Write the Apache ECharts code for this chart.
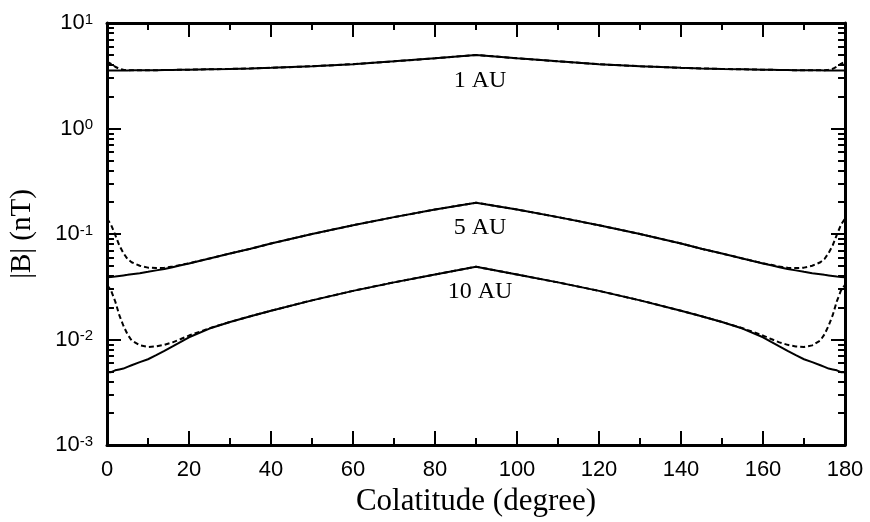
<!DOCTYPE html>
<html>
<head>
<meta charset="utf-8">
<script src="https://cdn.jsdelivr.net/npm/echarts@6/dist/echarts.min.js"></script>
<style>
  html, body { margin: 0; padding: 0; background: #fff; }
  #main { width: 870px; height: 522px; }
</style>
</head>
<body>
<div id="main"></div>
<script>
// colatitude grid (degrees)
const xs = [0, 1, 2, 3, 4, 5, 6, 8, 10, 12, 14, 16, 18, 20, 25, 30, 35, 40, 50, 60, 70, 80,
  90,
  100, 110, 120, 130, 140, 145, 150, 155, 160, 162, 164, 166, 168, 170, 172, 174, 175, 176, 177, 178, 179, 180];

// |B| in nT
const au1Solid = [3.55, 3.55, 3.55, 3.55, 3.55, 3.55, 3.56, 3.56, 3.56, 3.57, 3.58, 3.59, 3.60, 3.61, 3.64, 3.67, 3.71, 3.76, 3.89, 4.07, 4.33, 4.63,
  4.98,
  4.63, 4.33, 4.07, 3.89, 3.76, 3.71, 3.67, 3.64, 3.61, 3.60, 3.59, 3.58, 3.57, 3.56, 3.56, 3.56, 3.55, 3.55, 3.55, 3.55, 3.55, 3.55];
const au1Dash = [4.30, 4.10, 3.85, 3.68, 3.60, 3.57, 3.56, 3.56, 3.56, 3.57, 3.58, 3.59, 3.60, 3.61, 3.64, 3.67, 3.71, 3.76, 3.89, 4.07, 4.33, 4.63,
  4.98,
  4.63, 4.33, 4.07, 3.89, 3.76, 3.71, 3.67, 3.64, 3.61, 3.60, 3.59, 3.58, 3.57, 3.56, 3.56, 3.56, 3.57, 3.60, 3.68, 3.85, 4.10, 4.30];

const au5Solid = [0.039, 0.0391, 0.0395, 0.040, 0.0405, 0.041, 0.0416, 0.0425, 0.0438, 0.0452, 0.0466, 0.0485, 0.0505, 0.0525, 0.0586, 0.0653, 0.0724, 0.0813, 0.100, 0.121, 0.1445, 0.1706,
  0.198,
  0.1706, 0.1445, 0.121, 0.100, 0.0813, 0.0724, 0.0653, 0.0586, 0.0525, 0.0505, 0.0485, 0.0466, 0.0452, 0.0438, 0.0425, 0.0416, 0.041, 0.0405, 0.040, 0.0395, 0.0391, 0.039];
const au5Dash = [0.14, 0.122, 0.098, 0.078, 0.066, 0.058, 0.054, 0.050, 0.048, 0.0475, 0.0478, 0.0492, 0.051, 0.0528, 0.0586, 0.0653, 0.0724, 0.0813, 0.100, 0.121, 0.1445, 0.1706,
  0.198,
  0.1706, 0.1445, 0.121, 0.100, 0.0813, 0.0724, 0.0653, 0.0586, 0.0528, 0.051, 0.0492, 0.0478, 0.0475, 0.048, 0.050, 0.054, 0.058, 0.066, 0.078, 0.098, 0.122, 0.14];

const au10Solid = [0.0049, 0.0049, 0.0051, 0.0052, 0.0053, 0.0055, 0.0057, 0.0061, 0.0065, 0.0071, 0.0078, 0.0086, 0.0095, 0.0105, 0.0127, 0.01466, 0.01663, 0.01875, 0.0235, 0.0289, 0.0348, 0.0413,
  0.049,
  0.0413, 0.0348, 0.0289, 0.0235, 0.01875, 0.01663, 0.01466, 0.0127, 0.0105, 0.0095, 0.0086, 0.0078, 0.0071, 0.0065, 0.0061, 0.0057, 0.0055, 0.0053, 0.0052, 0.0051, 0.0049, 0.0049];
const au10Dash = [0.033, 0.029, 0.023, 0.017, 0.0135, 0.0112, 0.0098, 0.0088, 0.0085, 0.0086, 0.0089, 0.0094, 0.0101, 0.0109, 0.0128, 0.01466, 0.01663, 0.01875, 0.0235, 0.0289, 0.0348, 0.0413,
  0.049,
  0.0413, 0.0348, 0.0289, 0.0235, 0.01875, 0.01663, 0.01466, 0.0128, 0.0109, 0.0101, 0.0094, 0.0089, 0.0086, 0.0085, 0.0088, 0.0098, 0.0112, 0.0135, 0.017, 0.023, 0.029, 0.033];

const curveLabels = ['1 AU', '5 AU', '10 AU'];
const minorLogTicks = [0.002, 0.003, 0.004, 0.005, 0.006, 0.007, 0.008, 0.009,
  0.02, 0.03, 0.04, 0.05, 0.06, 0.07, 0.08, 0.09,
  0.2, 0.3, 0.4, 0.5, 0.6, 0.7, 0.8, 0.9,
  2, 3, 4, 5, 6, 7, 8, 9];

const xMin = 0, xMax = 180;
const minorLen = 1.7; // minor tick length in degrees (about 7 px)
const sans = 'Liberation Sans';
const serif = 'Liberation Serif';

function line(vals, dashed, label) {
  const s = {
    type: 'line',
    data: xs.map(function (x, i) { return [x, vals[i]]; }),
    showSymbol: false,
    symbol: 'none',
    silent: true,
    z: dashed ? 2 : 3,
    lineStyle: { color: '#000', width: 2, type: dashed ? [5, 3] : 'solid' }
  };
  if (label) {
    const i = xs.indexOf(90);
    s.markPoint = {
      silent: true,
      symbol: 'circle',
      symbolSize: 1,
      itemStyle: { color: 'rgba(0,0,0,0)' },
      label: { show: true, position: 'bottom', distance: 13, offset: [4, 0], formatter: label,
        fontFamily: serif, fontSize: 24, color: '#000' },
      data: [{ coord: [xs[i], vals[i]] }]
    };
  }
  return s;
}

// short log minor ticks on both vertical edges
const minorSegs = [];
minorLogTicks.forEach(function (v) {
  minorSegs.push([{ coord: [xMin, v] }, { coord: [xMin + minorLen, v] }]);
  minorSegs.push([{ coord: [xMax - minorLen, v] }, { coord: [xMax, v] }]);
});

const xBase = {
  type: 'value', min: xMin, max: xMax, interval: 20,
  axisLine: { show: true, onZero: false, lineStyle: { color: '#000', width: 3 } },
  axisTick: { show: true, inside: true, length: 14, lineStyle: { color: '#000', width: 2 } },
  minorTick: { show: true, splitNumber: 2, length: 7, lineStyle: { color: '#000', width: 2 } },
  splitLine: { show: false },
  minorSplitLine: { show: false }
};

const yBase = {
  type: 'log', logBase: 10, min: 0.001, max: 10,
  axisLine: { show: true, onZero: false, lineStyle: { color: '#000', width: 3 } },
  axisTick: { show: true, inside: true, length: 14, lineStyle: { color: '#000', width: 2 } },
  splitLine: { show: false }
};

const myChart = echarts.init(document.getElementById('main'));

const series = [
  line(au1Dash, true),
  line(au5Dash, true),
  line(au10Dash, true),
  line(au1Solid, false, curveLabels[0]),
  line(au5Solid, false, curveLabels[1]),
  line(au10Solid, false, curveLabels[2])
];
series[5].markLine = {
  silent: true,
  animation: false,
  symbol: ['none', 'none'],
  label: { show: false },
  emphasis: { disabled: true },
  lineStyle: { color: '#000', width: 2, type: 'solid' },
  data: minorSegs
};

const option = {
  backgroundColor: '#fff',
  animation: false,
  grid: { left: 107, right: 25, top: 23, bottom: 77 },
  xAxis: [
    Object.assign({}, xBase, {
      position: 'bottom',
      name: 'Colatitude (degree)',
      nameLocation: 'middle',
      nameGap: 36,
      nameTextStyle: { fontFamily: serif, fontSize: 31, color: '#000' },
      axisLabel: { fontFamily: sans, fontSize: 22, color: '#000', margin: 14 }
    }),
    Object.assign({}, xBase, { position: 'top', axisLabel: { show: false } })
  ],
  yAxis: [
    Object.assign({}, yBase, {
      position: 'left',
      name: '|B| (nT)',
      nameLocation: 'middle',
      nameGap: 70,
      nameTextStyle: { fontFamily: serif, fontSize: 29, color: '#000' },
      axisLabel: {
        margin: 14,
        formatter: function (v) {
          return '{b|10}{s|' + Math.round(Math.log10(v)) + '}';
        },
        rich: {
          b: { fontFamily: sans, fontSize: 22, color: '#000' },
          s: { fontFamily: sans, fontSize: 15, color: '#000', verticalAlign: 'top' }
        }
      }
    }),
    Object.assign({}, yBase, { position: 'right', axisLabel: { show: false } })
  ],
  series: series
};

myChart.setOption(option);
</script>
</body>
</html>
